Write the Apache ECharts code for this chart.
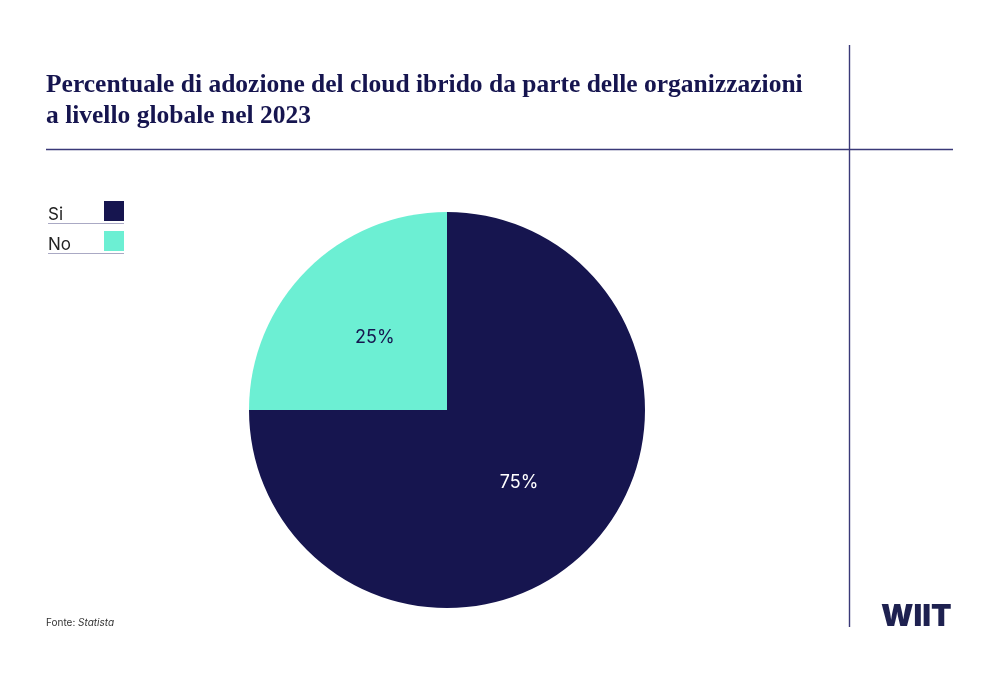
<!DOCTYPE html>
<html><head><meta charset="utf-8">
<script src="https://cdn.jsdelivr.net/npm/echarts@6/dist/echarts.min.js"></script>
<style>html,body{margin:0;padding:0;background:#fff}#c{width:1000px;height:674px}</style>
</head><body><div id="c"></div>
<script>
const categories = ['Si', 'No'];
const values = [75, 25];
const colors = ['#16154f', '#6cefd3'];
const labelColors = ['#ffffff', '#16154f'];

const chart = echarts.init(document.getElementById('c'), null, {renderer: 'canvas'});
const navy = '#16154f';
const lineC = '#3a3978';

const legendGraphics = [];
categories.forEach((n, i) => {
  const y = 201 + i * 30;
  legendGraphics.push({type: 'text', left: 48, top: y + 5, style: {text: n, fontFamily: 'Inter', fontSize: 17, fill: '#222'}});
  legendGraphics.push({type: 'rect', shape: {x: 104, y: y, width: 20, height: 20}, style: {fill: colors[i]}});
  legendGraphics.push({type: 'line', shape: {x1: 48, y1: y + 22.5, x2: 124, y2: y + 22.5}, style: {stroke: '#aaa9c4', lineWidth: 1}});
});

chart.setOption({
  backgroundColor: '#fff',
  animation: false,
  title: {
    text: 'Percentuale di adozione del cloud ibrido da parte delle organizzazioni\na livello globale nel 2023',
    left: 46, top: 70, padding: 0,
    textStyle: {fontFamily: 'Liberation Serif', fontWeight: 'bold', fontSize: 25.5, color: navy, lineHeight: 31}
  },
  graphic: [
    {type: 'line', shape: {x1: 46, y1: 149.5, x2: 953, y2: 149.5}, style: {stroke: lineC, lineWidth: 1.4}},
    {type: 'line', shape: {x1: 849.5, y1: 45, x2: 849.5, y2: 627}, style: {stroke: lineC, lineWidth: 1.4}},
    ...legendGraphics,
    {type: 'text', left: 46, top: 618, style: {rich: {a: {fontFamily: 'Inter', fontSize: 10, fill: '#333'}, b: {fontFamily: 'Inter', fontSize: 10, fontStyle: 'italic', fill: '#333'}}, text: '{a|Fonte: }{b|Statista}'}},
    {type: 'text', left: 881, top: 602, style: {text: 'WIIT', fontFamily: 'Inter', fontWeight: 900, fontSize: 30, fill: '#1e2150'}}
  ],
  series: [{
    type: 'pie',
    center: [447, 410],
    radius: [0, 198],
    startAngle: 90,
    clockwise: true,
    label: {position: 'inside', fontFamily: 'Inter', fontSize: 18, formatter: '{c}%'},
    labelLine: {show: false},
    emphasis: {disabled: true},
    itemStyle: {borderWidth: 0},
    data: categories.map((n, i) => ({name: n, value: values[i], itemStyle: {color: colors[i]}, label: {color: labelColors[i]}}))
  }]
});
</script></body></html>
